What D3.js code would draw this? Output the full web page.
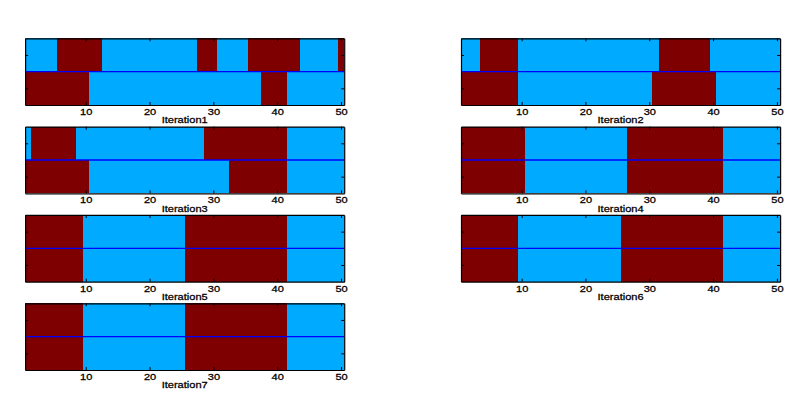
<!DOCTYPE html>
<html>
<head>
<meta charset="utf-8">
<script src="https://cdn.jsdelivr.net/npm/d3@7/dist/d3.min.js"></script>
<style>
  html, body { margin: 0; padding: 0; background: #fff; }
  svg { display: block; }
  text { font-family: "Liberation Sans", Arial, Helvetica, sans-serif; fill: #000; stroke: #000; stroke-width: 0.25px; }
</style>
</head>
<body>
<svg id="chart" width="800" height="401"></svg>
<script>
// ---- Data: class of each of the 50 positions (1 = dark red, 0 = cyan), two rows per iteration ----
const positions = d3.range(1, 51);
const xTickValues = [10, 20, 30, 40, 50];
const yTickValues = [1, 2];
const titles = ["Iteration1", "Iteration2", "Iteration3", "Iteration4", "Iteration5", "Iteration6", "Iteration7"];

const iter1Top    = [0,0,0,0,0,1,1,1,1,1, 1,1,0,0,0,0,0,0,0,0, 0,0,0,0,0,0,0,1,1,1, 0,0,0,0,0,1,1,1,1,1, 1,1,1,0,0,0,0,0,0,1];
const iter1Bottom = [1,1,1,1,1,1,1,1,1,1, 0,0,0,0,0,0,0,0,0,0, 0,0,0,0,0,0,0,0,0,0, 0,0,0,0,0,0,0,1,1,1, 1,0,0,0,0,0,0,0,0,0];
const iter2Top    = [0,0,0,1,1,1,1,1,1,0, 0,0,0,0,0,0,0,0,0,0, 0,0,0,0,0,0,0,0,0,0, 0,1,1,1,1,1,1,1,1,0, 0,0,0,0,0,0,0,0,0,0];
const iter2Bottom = [1,1,1,1,1,1,1,1,1,0, 0,0,0,0,0,0,0,0,0,0, 0,0,0,0,0,0,0,0,0,0, 1,1,1,1,1,1,1,1,1,1, 0,0,0,0,0,0,0,0,0,0];
const iter3Top    = [0,1,1,1,1,1,1,1,0,0, 0,0,0,0,0,0,0,0,0,0, 0,0,0,0,0,0,0,0,1,1, 1,1,1,1,1,1,1,1,1,1, 1,0,0,0,0,0,0,0,0,0];
const iter3Bottom = [1,1,1,1,1,1,1,1,1,1, 0,0,0,0,0,0,0,0,0,0, 0,0,0,0,0,0,0,0,0,0, 0,0,1,1,1,1,1,1,1,1, 1,0,0,0,0,0,0,0,0,0];
const iter4Top    = [1,1,1,1,1,1,1,1,1,1, 0,0,0,0,0,0,0,0,0,0, 0,0,0,0,0,0,1,1,1,1, 1,1,1,1,1,1,1,1,1,1, 1,0,0,0,0,0,0,0,0,0];
const iter4Bottom = [1,1,1,1,1,1,1,1,1,1, 0,0,0,0,0,0,0,0,0,0, 0,0,0,0,0,0,1,1,1,1, 1,1,1,1,1,1,1,1,1,1, 1,0,0,0,0,0,0,0,0,0];
const iter5Top    = [1,1,1,1,1,1,1,1,1,0, 0,0,0,0,0,0,0,0,0,0, 0,0,0,0,0,1,1,1,1,1, 1,1,1,1,1,1,1,1,1,1, 1,0,0,0,0,0,0,0,0,0];
const iter5Bottom = [1,1,1,1,1,1,1,1,1,0, 0,0,0,0,0,0,0,0,0,0, 0,0,0,0,0,1,1,1,1,1, 1,1,1,1,1,1,1,1,1,1, 1,0,0,0,0,0,0,0,0,0];
const iter6Top    = [1,1,1,1,1,1,1,1,1,0, 0,0,0,0,0,0,0,0,0,0, 0,0,0,0,0,1,1,1,1,1, 1,1,1,1,1,1,1,1,1,1, 1,0,0,0,0,0,0,0,0,0];
const iter6Bottom = [1,1,1,1,1,1,1,1,1,0, 0,0,0,0,0,0,0,0,0,0, 0,0,0,0,0,1,1,1,1,1, 1,1,1,1,1,1,1,1,1,1, 1,0,0,0,0,0,0,0,0,0];
const iter7Top    = [1,1,1,1,1,1,1,1,1,0, 0,0,0,0,0,0,0,0,0,0, 0,0,0,0,0,1,1,1,1,1, 1,1,1,1,1,1,1,1,1,1, 1,0,0,0,0,0,0,0,0,0];
const iter7Bottom = [1,1,1,1,1,1,1,1,1,0, 0,0,0,0,0,0,0,0,0,0, 0,0,0,0,0,1,1,1,1,1, 1,1,1,1,1,1,1,1,1,1, 1,0,0,0,0,0,0,0,0,0];

const iterations = [
  [iter1Top, iter1Bottom], [iter2Top, iter2Bottom], [iter3Top, iter3Bottom],
  [iter4Top, iter4Bottom], [iter5Top, iter5Bottom], [iter6Top, iter6Bottom],
  [iter7Top, iter7Bottom]
];
const separatorLevel = 1.5;

// ---- Layout ----
const colLeft = [25.1, 461];
const plotW = 319.1;
const rowTop0 = 38.3, rowStep = 88.33, plotH = 66.7;
const colorScale = d3.scaleOrdinal().domain([0, 1]).range(["#00aaff", "#7f0000"]);
const textScaleX = 1.3;

const svg = d3.select("#chart");

iterations.forEach((rows, k) => {
  const col = k % 2, row = Math.floor(k / 2);
  const left = colLeft[col], top = rowTop0 + row * rowStep;
  const x = d3.scaleLinear().domain([0.5, 50.5]).range([left, left + plotW]);
  const y = d3.scaleLinear().domain([0.5, 2.5]).range([top, top + plotH]);

  const g = svg.append("g");

  // cells
  rows.forEach((vals, r) => {
    g.append("g").selectAll("rect")
      .data(positions)
      .join("rect")
      .attr("x", d => x(d - 0.5))
      .attr("width", d => x(d + 0.5) - x(d - 0.5))
      .attr("y", y(r + 0.5))
      .attr("height", y(r + 1.5) - y(r + 0.5))
      .attr("fill", (d, i) => colorScale(vals[i]))
      .attr("shape-rendering", "crispEdges");
  });

  // separator line
  g.append("line")
    .attr("x1", x(0.5)).attr("x2", x(50.5))
    .attr("y1", y(separatorLevel)).attr("y2", y(separatorLevel))
    .attr("stroke", "#0000ff").attr("stroke-width", 1.3);

  // axes (ticks inward, MATLAB box style)
  const bottom = g.append("g").attr("transform", `translate(0,${top + plotH})`)
    .call(d3.axisBottom(x).tickValues(xTickValues).tickSizeInner(-3).tickSizeOuter(0).tickFormat(d3.format("d")));
  bottom.selectAll("text")
    .attr("y", 10).attr("dy", null)
    .attr("transform", `scale(${textScaleX},1)`)
    .style("font-size", "8.5px")
    .style("font-family", "'Liberation Sans', Arial, sans-serif")
    .attr("fill", "#000");
  g.append("g").attr("transform", `translate(0,${top})`)
    .call(d3.axisTop(x).tickValues(xTickValues).tickSizeInner(-3).tickSizeOuter(0).tickFormat(""));
  g.append("g").attr("transform", `translate(${left},0)`)
    .call(d3.axisLeft(y).tickValues(yTickValues).tickSizeInner(-3).tickSizeOuter(0).tickFormat(""));
  g.append("g").attr("transform", `translate(${left + plotW},0)`)
    .call(d3.axisRight(y).tickValues(yTickValues).tickSizeInner(-3).tickSizeOuter(0).tickFormat(""));
  g.selectAll(".domain").attr("stroke", "#000").attr("stroke-width", 1.2);
  g.selectAll(".tick line").attr("stroke", "#000");

  // x label
  const cx = left + plotW / 2;
  g.append("text")
    .attr("transform", `translate(${cx},${top + plotH + 18.3}) scale(${textScaleX},1)`)
    .attr("text-anchor", "middle")
    .style("font-size", "8.5px")
    .text(titles[k]);
});
</script>
</body>
</html>
